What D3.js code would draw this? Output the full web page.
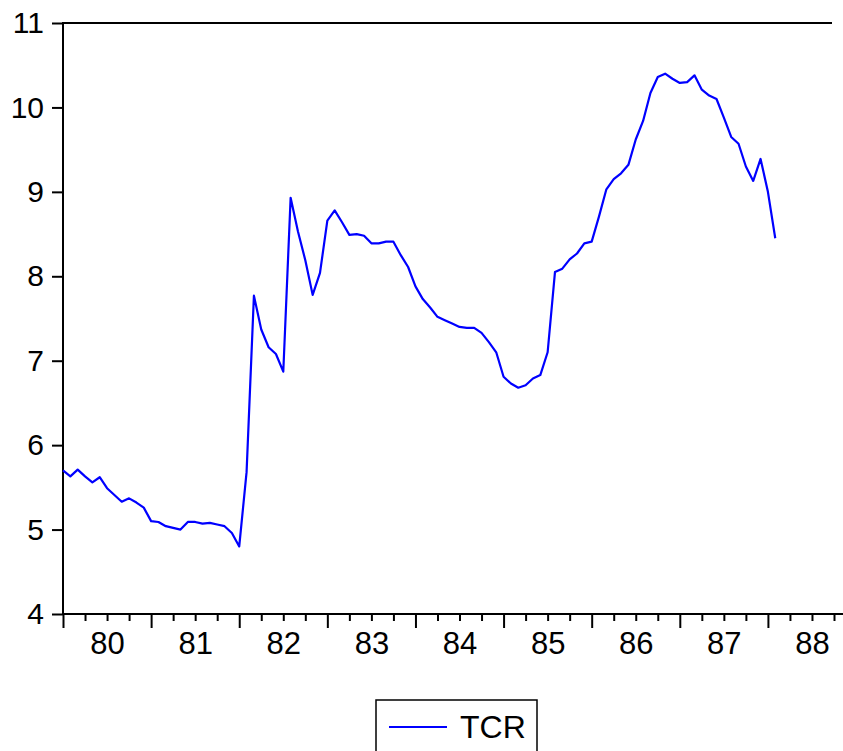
<!DOCTYPE html>
<html>
<head>
<meta charset="utf-8">
<script src="https://cdn.jsdelivr.net/npm/d3@7"></script>
<style>
    body { margin: 0; background: #fff; }
    svg { display: block; font-family: "Liberation Sans", Arial, sans-serif; }
    .axis path, .axis line { stroke: #000; stroke-width: 2; }
    .axis text { fill: #000; }
</style>
</head>
<body>
<div id="chart"></div>
<script>
// Monthly TCR series, 1980:01 - 1988:02
const startYear = 1980;
const tcr = [
    5.70, 5.63, 5.71, 5.63, 5.56, 5.62, 5.49, 5.41, 5.33, 5.37, 5.32, 5.26,   // 1980
    5.10, 5.09, 5.04, 5.02, 5.00, 5.09, 5.09, 5.07, 5.08, 5.06, 5.04, 4.96,   // 1981
    4.80, 5.68, 7.77, 7.37, 7.16, 7.08, 6.87, 8.93, 8.53, 8.19, 7.78, 8.04,   // 1982
    8.66, 8.78, 8.64, 8.49, 8.50, 8.48, 8.39, 8.39, 8.41, 8.41, 8.25, 8.11,   // 1983
    7.88, 7.73, 7.63, 7.52, 7.48, 7.44, 7.40, 7.39, 7.39, 7.33, 7.22, 7.10,   // 1984
    6.81, 6.73, 6.68, 6.71, 6.79, 6.83, 7.10, 8.05, 8.09, 8.20, 8.27, 8.39,   // 1985
    8.41, 8.71, 9.03, 9.15, 9.22, 9.32, 9.62, 9.84, 10.17, 10.36, 10.40, 10.34, // 1986
    10.29, 10.30, 10.38, 10.21, 10.14, 10.10, 9.88, 9.65, 9.57, 9.30, 9.13, 9.39, // 1987
    9.00, 8.45                                                                 // 1988
];
const yTicks = [4, 5, 6, 7, 8, 9, 10, 11];
const years = [1980, 1981, 1982, 1983, 1984, 1985, 1986, 1987, 1988];
const seriesName = 'TCR';

function createChart(containerId) {
    const width = 843, height = 751;
    const left = 63, top = 23, bottom = 614;

    const svg = d3.select(`#${containerId}`)
        .append('svg')
        .attr('width', width)
        .attr('height', height);

    const x = d3.scaleLinear()
        .domain([1980, 1988.75])
        .range([left, 834]);

    const y = d3.scaleLinear()
        .domain([4, 11])
        .range([bottom, top]);

    const series = tcr.map((v, i) => ({ t: startYear + i / 12, v }));

    // Top frame line
    svg.append('line')
        .attr('x1', left).attr('x2', 832)
        .attr('y1', top).attr('y2', top)
        .attr('stroke', '#000')
        .attr('stroke-width', 2);

    // Y axis
    svg.append('g')
        .attr('class', 'axis')
        .attr('transform', `translate(${left},0)`)
        .call(d3.axisLeft(y).tickValues(yTicks).tickSize(11).tickPadding(8).tickSizeOuter(0)
            .tickFormat(d3.format('d')))
        .call(g => g.select('.domain').attr('d', `M0,${top - 1}V${bottom + 1}`))
        .selectAll('text')
        .style('font-size', '30px');

    // X axis: quarterly minor ticks
    const quarters = d3.range(1980, 1988.76, 0.25).filter(q => q % 1 !== 0);
    svg.append('g')
        .attr('class', 'axis')
        .attr('transform', `translate(0,${bottom})`)
        .call(d3.axisBottom(x).tickValues(quarters).tickSize(7).tickFormat(''))
        .call(g => g.select('.domain').attr('d', `M${left - 1},0H${width}`));

    // X axis: yearly major ticks
    svg.append('g')
        .attr('class', 'axis')
        .attr('transform', `translate(0,${bottom})`)
        .call(d3.axisBottom(x).tickValues(years).tickSize(14).tickFormat(''))
        .call(g => g.select('.domain').remove());

    // Year labels centred in each year
    svg.append('g')
        .attr('class', 'axis')
        .attr('transform', `translate(0,${bottom})`)
        .call(d3.axisBottom(x).tickValues(years.map(d => d + 0.5)).tickSize(0).tickPadding(18)
            .tickFormat(d => String(Math.floor(d)).slice(2)))
        .call(g => g.select('.domain').remove())
        .selectAll('text')
        .style('font-size', '31px');

    // Series line
    const line = d3.line()
        .x(d => x(d.t))
        .y(d => y(d.v));

    svg.append('path')
        .datum(series)
        .attr('fill', 'none')
        .attr('stroke', '#0000ff')
        .attr('stroke-width', 2.2)
        .attr('stroke-linejoin', 'round')
        .attr('d', line);

    // Legend
    const legend = svg.append('g').attr('transform', 'translate(376,700)');
    legend.append('rect')
        .attr('x', 0).attr('y', 0)
        .attr('width', 161).attr('height', 52)
        .attr('fill', '#fff')
        .attr('stroke', '#000')
        .attr('stroke-width', 1.5);
    legend.append('line')
        .attr('x1', 13).attr('x2', 71)
        .attr('y1', 27).attr('y2', 27)
        .attr('stroke', '#0000ff')
        .attr('stroke-width', 2);
    legend.append('text')
        .attr('x', 84)
        .attr('y', 38)
        .style('font-size', '32px')
        .text(seriesName);
}

createChart('chart');
</script>
</body>
</html>
